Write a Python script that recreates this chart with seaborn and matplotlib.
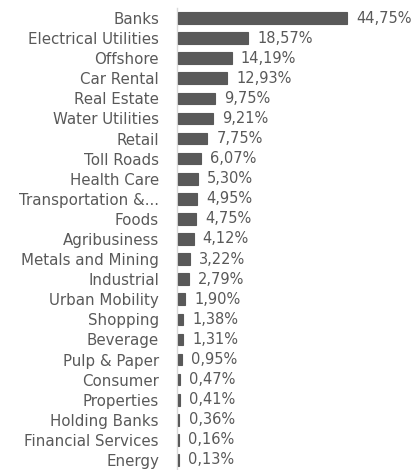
import pandas as pd
import matplotlib
matplotlib.use("Agg")
import matplotlib.pyplot as plt
import seaborn as sns

sectors = ["Banks", "Electrical Utilities", "Offshore", "Car Rental", "Real Estate",
           "Water Utilities", "Retail", "Toll Roads", "Health Care", "Transportation &...",
           "Foods", "Agribusiness", "Metals and Mining", "Industrial", "Urban Mobility",
           "Shopping", "Beverage", "Pulp & Paper", "Consumer", "Properties",
           "Holding Banks", "Financial Services", "Energy"]
weights = [44.75, 18.57, 14.19, 12.93, 9.75, 9.21, 7.75, 6.07, 5.30, 4.95,
           4.75, 4.12, 3.22, 2.79, 1.90, 1.38, 1.31, 0.95, 0.47, 0.41,
           0.36, 0.16, 0.13]

df = pd.DataFrame({"Sector": sectors, "Weight": weights})

sns.set_style("white")
plt.rcParams["font.family"] = ["DejaVu Sans"]

grey = "#595959"
fig = plt.figure(figsize=(4.12, 4.70), dpi=100)
ax = fig.add_axes([177 / 412, 0, 1 - 177 / 412, 1 - 8 / 470])

sns.barplot(data=df, x="Weight", y="Sector", color=grey, saturation=1,
            width=0.58, orient="h", ax=ax, edgecolor=grey, linewidth=0.8)

for i, v in enumerate(weights):
    ax.text(v + 2.4, i, f"{v:.2f}%".replace(".", ","), va="center", ha="left",
            fontsize=10.5, color=grey)

ax.set_xlim(-0.3, 62)
ax.set_ylim(22.5, -0.5)
ax.set_xlabel("")
ax.set_ylabel("")
ax.set_xticks([])
ax.tick_params(axis="y", length=0, pad=13, labelsize=10.8, labelcolor=grey)
for s in ["top", "right", "bottom"]:
    ax.spines[s].set_visible(False)
ax.spines["left"].set_color("#d9d9d9")
ax.spines["left"].set_linewidth(1)
ax.spines["left"].set_zorder(0)

fig.savefig("out.png", dpi=100)
